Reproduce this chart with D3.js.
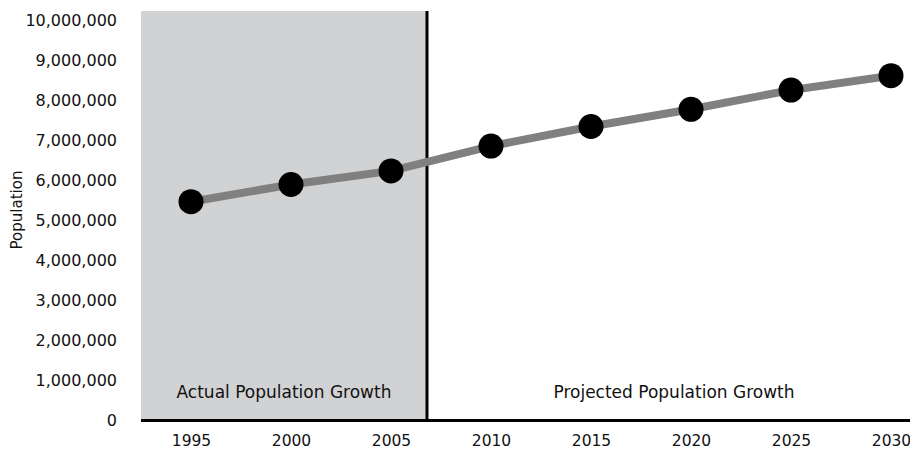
<!DOCTYPE html>
<html>
<head>
<meta charset="utf-8">
<script src="https://cdn.jsdelivr.net/npm/d3@7"></script>
<style>
  html, body { margin: 0; padding: 0; background: #fff; }
  svg { display: block; }
  text { font-family: "DejaVu Sans", Verdana, sans-serif; fill: #111; }
</style>
</head>
<body>
<svg id="chart" width="910" height="457"></svg>
<script>
// Population by year: actual (to 2005) and projected (2010 onward)
const years = [1995, 2000, 2005, 2010, 2015, 2020, 2025, 2030];
const population = [5470000, 5900000, 6240000, 6860000, 7350000, 7780000, 8260000, 8620000];
const yTicks = [0, 1000000, 2000000, 3000000, 4000000, 5000000, 6000000, 7000000, 8000000, 9000000, 10000000];
const splitYear = 2006.8;
const regionLabels = ["Actual Population Growth", "Projected Population Growth"];
const yTitle = "Population";

const W = 910, H = 457;
const plotLeft = 141, plotRight = 910, plotTop = 11;

const svg = d3.select("#chart");

const x = d3.scaleLinear().domain([1995, 2030]).range([191, 891]);
const y = d3.scaleLinear().domain([0, 10000000]).range([420.5, 20.5]);

// shaded "actual" period
svg.append("rect")
  .attr("x", plotLeft)
  .attr("y", plotTop)
  .attr("width", x(splitYear) - plotLeft)
  .attr("height", y(0) - plotTop)
  .attr("fill", "#d1d2d4");

// y axis labels
const fmt = d3.format(",");
const yAxis = d3.axisLeft(y).tickValues(yTicks).tickFormat(fmt).tickSize(0).tickPadding(0);
const gy = svg.append("g").attr("transform", "translate(117,0)").call(yAxis);
gy.select(".domain").remove();
gy.selectAll("text")
  .style("font-family", "'DejaVu Sans', Verdana, sans-serif")
  .style("font-size", "16px")
  .attr("fill", "#111");

// x axis labels
const xAxis = d3.axisBottom(x).tickValues(years).tickFormat(d3.format("d")).tickSize(0).tickPadding(0);
const gx = svg.append("g").attr("transform", "translate(0,435)").call(xAxis);
gx.select(".domain").remove();
gx.selectAll("text")
  .style("font-family", "'DejaVu Sans', Verdana, sans-serif")
  .style("font-size", "15.5px")
  .attr("fill", "#111");

// y axis title
svg.append("text")
  .attr("transform", `translate(22,210) rotate(-90)`)
  .attr("text-anchor", "middle")
  .style("font-size", "15px")
  .text(yTitle);

// region labels
svg.append("text")
  .attr("x", (plotLeft + x(splitYear)) / 2)
  .attr("y", 398)
  .attr("text-anchor", "middle")
  .style("font-size", "17px")
  .text(regionLabels[0]);
svg.append("text")
  .attr("x", (x(splitYear) + 921) / 2)
  .attr("y", 398)
  .attr("text-anchor", "middle")
  .style("font-size", "17px")
  .text(regionLabels[1]);

// baseline and divider
svg.append("line")
  .attr("x1", plotLeft).attr("x2", plotRight)
  .attr("y1", y(0)).attr("y2", y(0))
  .attr("stroke", "#000").attr("stroke-width", 3);
svg.append("line")
  .attr("x1", x(splitYear)).attr("x2", x(splitYear))
  .attr("y1", plotTop).attr("y2", y(0))
  .attr("stroke", "#000").attr("stroke-width", 3);

// population line
const data = years.map((yr, i) => ({ year: yr, value: population[i] }));
svg.append("path")
  .datum(data)
  .attr("fill", "none")
  .attr("stroke", "#808080")
  .attr("stroke-width", 8)
  .attr("d", d3.line().x(d => x(d.year)).y(d => y(d.value)));

svg.selectAll("circle.pt")
  .data(data)
  .join("circle")
  .attr("class", "pt")
  .attr("cx", d => x(d.year))
  .attr("cy", d => y(d.value))
  .attr("r", 12.5)
  .attr("fill", "#000");
</script>
</body>
</html>
